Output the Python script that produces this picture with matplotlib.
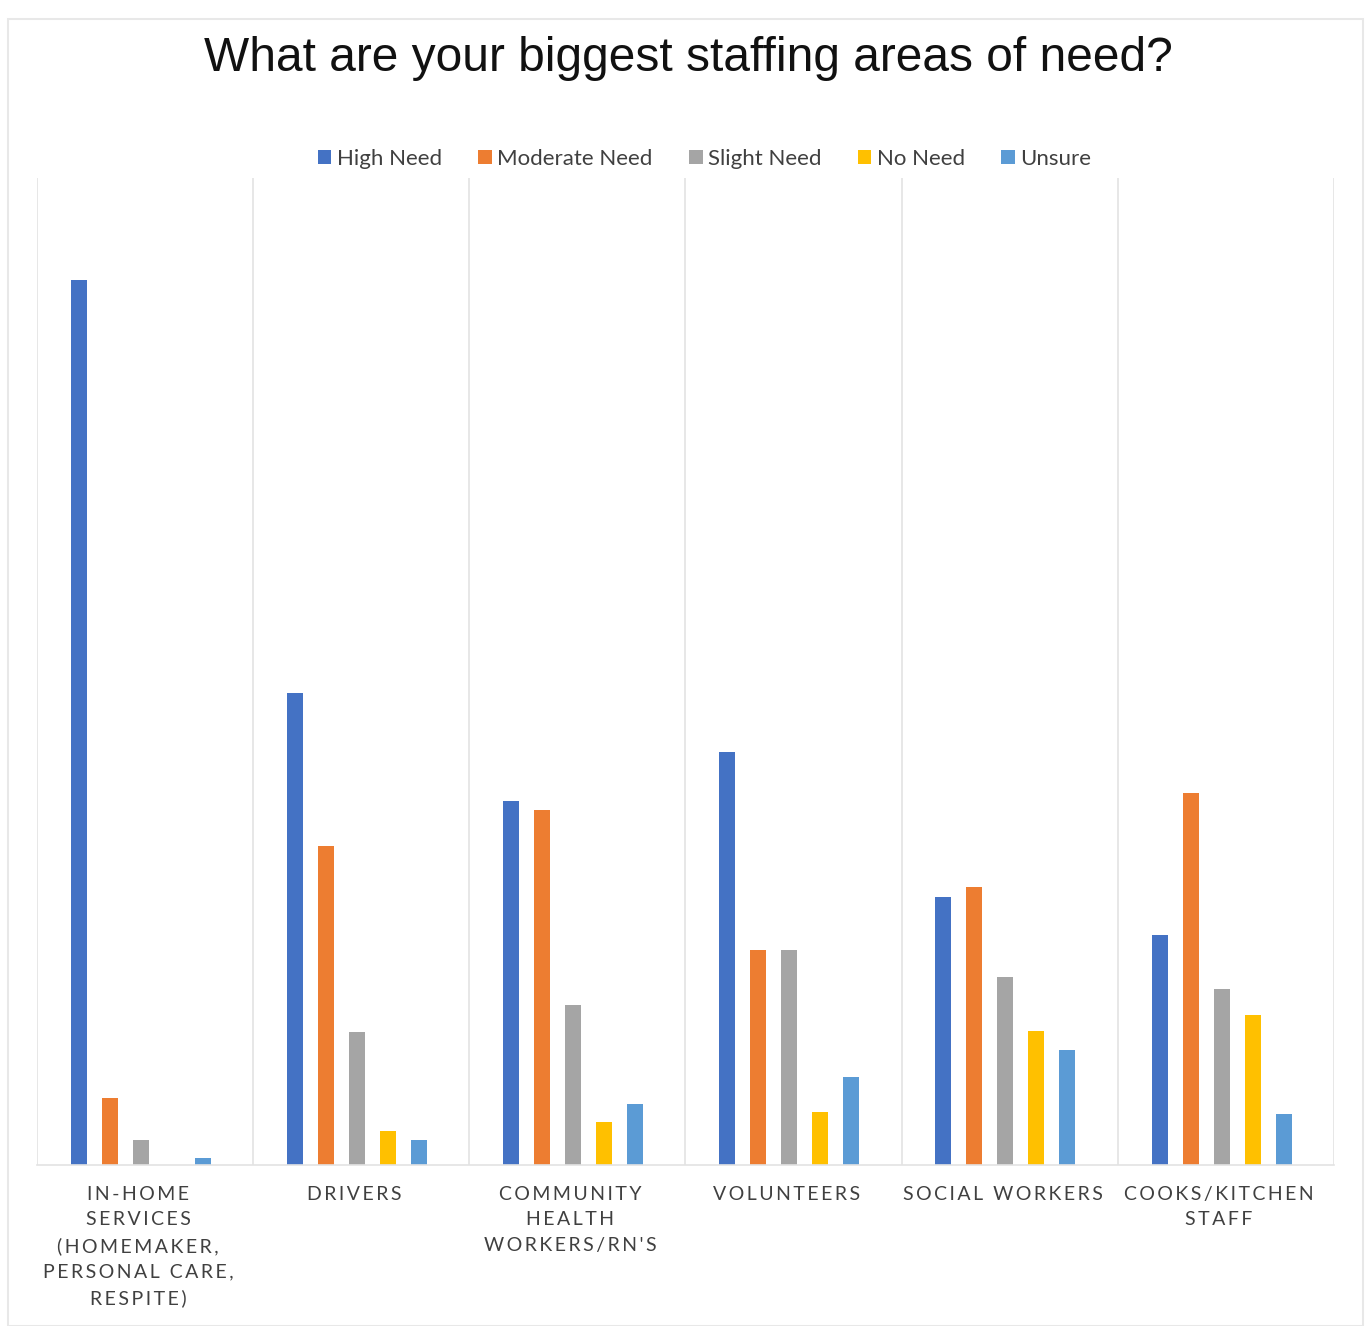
import numpy as np
import matplotlib.pyplot as plt
from matplotlib.patches import Rectangle
from matplotlib.transforms import ScaledTranslation

categories = ["IN-HOME\nSERVICES\n(HOMEMAKER,\nPERSONAL CARE,\nRESPITE)",
              "DRIVERS",
              "COMMUNITY\nHEALTH\nWORKERS/RN'S",
              "VOLUNTEERS",
              "SOCIAL WORKERS",
              "COOKS/KITCHEN\nSTAFF"]
series_names = ["High Need", "Moderate Need", "Slight Need", "No Need", "Unsure"]
high_need = [100.0, 53.3, 41.1, 46.7, 30.3, 26.0]
moderate_need = [7.6, 36.0, 40.1, 24.3, 31.4, 42.0]
slight_need = [2.8, 15.0, 18.1, 24.3, 21.2, 19.9]
no_need = [0.0, 3.8, 4.9, 6.0, 15.1, 17.0]
unsure = [0.8, 2.8, 6.9, 9.9, 13.0, 5.8]
colors = ["#4472C4", "#ED7D31", "#A5A5A5", "#FFC000", "#5B9BD5"]


def spaced(s):
    # letter-spaced look of the original axis labels
    return "\n".join("\u200a\u200a".join(line) for line in s.split("\n"))


fig = plt.figure(figsize=(13.71, 13.26), dpi=100)
ax = fig.add_axes([0.027, 0.1214, 0.946, 0.7444])

x = np.arange(len(categories))
step = 0.1435
width = 0.074
data = [high_need, moderate_need, slight_need, no_need, unsure]
for i, (name, vals) in enumerate(zip(series_names, data)):
    ax.bar(x + (i - 2) * step - 0.02, vals, width, color=colors[i], label=name)

ax.set_xlim(-0.5, len(categories) - 0.5)
ax.set_ylim(0, 111.5)
ax.set_yticks([])
ax.set_xticks(x)
ax.set_xticklabels([spaced(c) for c in categories], fontsize=14, color="#404040",
                   family="Lato", linespacing=1.6)
ax.tick_params(axis="x", length=0, pad=15)
shift = ScaledTranslation(-7 / 100, 0, fig.dpi_scale_trans)
for lbl in ax.get_xticklabels():
    lbl.set_transform(lbl.get_transform() + shift)
for b in np.arange(-0.5, len(categories), 1.0):
    ax.axvline(b, color="#E3E3E3", lw=1.2, zorder=0)
for s in ["top", "left", "right"]:
    ax.spines[s].set_visible(False)
ax.spines["bottom"].set_color("#E3E3E3")
ax.spines["bottom"].set_linewidth(1.2)

fig.text(0.502, 0.956, "What are your biggest staffing areas of need?", ha="center", va="center",
         fontsize=34.5, family="Liberation Sans", color="#111111")
fig.legend(loc="center", bbox_to_anchor=(0.514, 0.880), ncol=5, frameon=False,
           prop={"family": "Lato", "size": 16}, handlelength=0.6, handleheight=0.6,
           handletextpad=0.25, columnspacing=1.64, labelcolor="#404040")

fig.patches.append(Rectangle((0.006, 0.0), 0.988, 0.986, transform=fig.transFigure,
                             fill=False, edgecolor="#E8E8E8", lw=1.5))

fig.savefig("out.png", dpi=100)
